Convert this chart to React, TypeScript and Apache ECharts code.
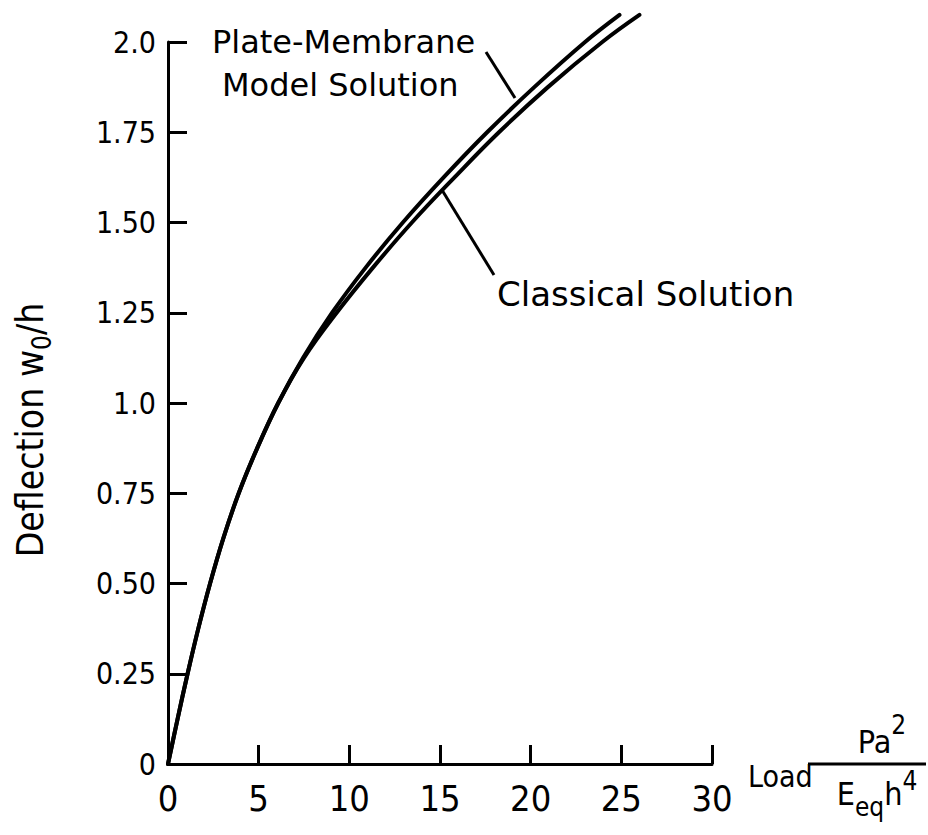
import React, { useEffect, useRef } from 'react';
import * as echarts from 'echarts';

// Tick values / labels
const xTickInterval = 5;
const yTickLabels = ['0', '0.25', '0.50', '0.75', '1.0', '1.25', '1.50', '1.75', '2.0'];

// Deflection levels at which both curves were read
const deflection = [0, 0.125, 0.25, 0.375, 0.5, 0.625, 0.75, 0.875, 1.0, 1.125, 1.25, 1.375, 1.5, 1.625, 1.75, 1.875, 2.0, 2.075];

// Plate-Membrane Model Solution: load at each deflection level
const plateMembraneLoad = [0, 0.53, 1.08, 1.67, 2.32, 3.05, 3.9, 4.92, 6.08, 7.45, 9.05, 10.9, 12.95, 15.2, 17.6, 20.2, 23.0, 24.9];

// Classical Solution: load at each deflection level
const classicalLoad = [0, 0.53, 1.08, 1.67, 2.32, 3.05, 3.9, 4.92, 6.08, 7.5, 9.3, 11.3, 13.45, 15.8, 18.25, 20.95, 23.95, 26.0];

const NARROW = "'DejaVu Sans Condensed', 'Liberation Sans Narrow', 'Liberation Sans', sans-serif";
const SANS = "'DejaVu Sans', 'Liberation Sans', sans-serif";

export default function App() {
  const ref = useRef<HTMLDivElement>(null);
  useEffect(() => {
    document.body.style.margin = '0';
    const chart = echarts.init(ref.current!, undefined, { renderer: 'svg' });
    const pm = plateMembraneLoad.map((x, i) => [x, deflection[i]]);
    const cl = classicalLoad.map((x, i) => [x, deflection[i]]);
    const lineStyle = { color: '#000', width: 4, cap: 'round' as const, join: 'round' as const };
    chart.setOption({
      animation: false,
      backgroundColor: '#fff',
      grid: { left: 168, top: 42, width: 544, height: 722 },
      xAxis: {
        type: 'value', min: 0, max: 30, interval: xTickInterval,
        axisLine: { lineStyle: { color: '#000', width: 3 } },
        axisTick: { inside: true, length: 19, lineStyle: { color: '#000', width: 3 } },
        splitLine: { show: false },
        axisLabel: { color: '#000', fontSize: 36, fontFamily: NARROW, margin: 16 },
      },
      yAxis: {
        type: 'value', min: 0, max: 2, interval: 0.25,
        axisLine: { lineStyle: { color: '#000', width: 3 } },
        axisTick: { inside: true, length: 19, lineStyle: { color: '#000', width: 3 } },
        splitLine: { show: false },
        axisLabel: {
          color: '#000', fontSize: 30, fontFamily: NARROW, margin: 12,
          formatter: (v: number) => yTickLabels[Math.round(v / 0.25)] ?? '',
        },
      },
      series: [
        { name: 'Plate-Membrane Model Solution', type: 'line', data: pm, showSymbol: false, symbol: 'none', smooth: 0.4, clip: false, lineStyle },
        { name: 'Classical Solution', type: 'line', data: cl, showSymbol: false, symbol: 'none', smooth: 0.4, clip: false, lineStyle },
      ],
      graphic: [
        { type: 'text', left: 212, top: 26, style: { text: 'Plate-Membrane', font: `32px ${SANS}`, fill: '#000' } },
        { type: 'text', left: 222, top: 69, style: { text: 'Model Solution', font: `32px ${SANS}`, fill: '#000' } },
        { type: 'text', left: 497, top: 277, style: { text: 'Classical Solution', font: `34px ${SANS}`, fill: '#000' } },
        { type: 'line', shape: { x1: 486, y1: 52, x2: 515, y2: 98 }, style: { stroke: '#000', lineWidth: 3 } },
        { type: 'line', shape: { x1: 442, y1: 190, x2: 494, y2: 275 }, style: { stroke: '#000', lineWidth: 3 } },
        {
          type: 'text', x: 30, y: 430, rotation: Math.PI / 2,
          style: {
            text: '{a|Deflection w}{s|0}{a|/h}',
            align: 'center', verticalAlign: 'middle',
            rich: {
              a: { fontSize: 37, fontFamily: NARROW, lineHeight: 50, verticalAlign: 'middle', fill: '#000' },
              s: { fontSize: 26, fontFamily: NARROW, lineHeight: 50, verticalAlign: 'bottom', fill: '#000' },
            },
          },
        },
        { type: 'text', x: 748, y: 776, style: { text: 'Load', font: `30px ${NARROW}`, fill: '#000', verticalAlign: 'middle' } },
        { type: 'line', shape: { x1: 808, y1: 764, x2: 926, y2: 764 }, style: { stroke: '#000', lineWidth: 3 } },
        {
          type: 'text', x: 882, y: 758,
          style: {
            text: '{a|Pa}{p|2}', align: 'center', verticalAlign: 'bottom',
            rich: {
              a: { fontSize: 32, fontFamily: NARROW, lineHeight: 46, verticalAlign: 'bottom', fill: '#000' },
              p: { fontSize: 26, fontFamily: NARROW, lineHeight: 46, verticalAlign: 'top', fill: '#000' },
            },
          },
        },
        {
          type: 'text', x: 877, y: 768,
          style: {
            text: '{a|E}{s|eq}{a|h}{p|4}', align: 'center', verticalAlign: 'top',
            rich: {
              a: { fontSize: 32, fontFamily: NARROW, lineHeight: 52, verticalAlign: 'middle', fill: '#000' },
              s: { fontSize: 26, fontFamily: NARROW, lineHeight: 52, verticalAlign: 'bottom', fill: '#000' },
              p: { fontSize: 26, fontFamily: NARROW, lineHeight: 52, verticalAlign: 'top', fill: '#000' },
            },
          },
        },
      ],
    });
    return () => chart.dispose();
  }, []);
  return <div ref={ref} style={{ width: 928, height: 835 }} />;
}
